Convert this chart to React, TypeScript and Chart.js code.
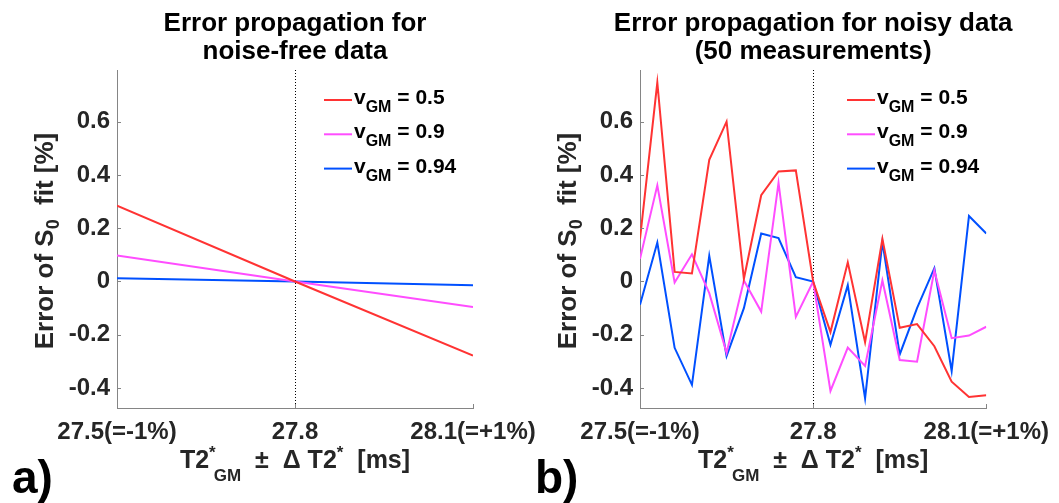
import React, { useEffect, useRef } from "react";
import { Chart, registerables } from "chart.js";

Chart.register(...registerables);

// ---------- data ----------
const xTickValues = [-1, 0, 1];
const xTickLabels = ["27.5(=-1%)", "27.8", "28.1(=+1%)"];
const yTickValues = [-0.4, -0.2, 0, 0.2, 0.4, 0.6];
const yTickLabels = ["-0.4", "-0.2", "0", "0.2", "0.4", "0.6"];

const seriesNames = ["0.5", "0.9", "0.94"];
const seriesColors = ["#ff3333", "#ff4dff", "#0050ff"];

const titleA = ["Error propagation for", "noise-free data"];
const titleB = ["Error propagation for noisy data", "(50 measurements)"];

// noise-free (relative deviation of T2*, -1 .. +1 %)
const noiseFreeX = [-1, 0, 1];
const noiseFreeV05 = [0.285, 0, -0.278];
const noiseFreeV09 = [0.098, 0, -0.096];
const noiseFreeV094 = [0.012, 0, -0.014];

// noisy data (50 measurements)
const noisyX = [-1, -0.9, -0.8, -0.7, -0.6, -0.5, -0.4, -0.3, -0.2, -0.1, 0, 0.1, 0.2, 0.3, 0.4, 0.5, 0.6, 0.7, 0.8, 0.9, 1];
const noisyV05 = [0.16, 0.747, 0.036, 0.03, 0.457, 0.6, 0.01, 0.324, 0.413, 0.417, 0, -0.19, 0.072, -0.228, 0.16, -0.174, -0.16, -0.243, -0.376, -0.434, -0.427];
const noisyV09 = [0.085, 0.361, -0.004, 0.102, -0.044, -0.268, 0.004, -0.113, 0.37, -0.133, 0, -0.411, -0.248, -0.317, 0.004, -0.295, -0.301, 0.041, -0.213, -0.203, -0.17];
const noisyV094 = [-0.087, 0.146, -0.249, -0.388, 0.096, -0.28, -0.1, 0.18, 0.163, 0.016, 0, -0.238, -0.014, -0.439, 0.149, -0.274, -0.1, 0.05, -0.336, 0.246, 0.18];

const Y_MIN = -0.475;
const Y_MAX = 0.794;

// ---------- drawing helpers ----------
const FONT = '"Liberation Sans", Arial, Helvetica, sans-serif';
const AXIS_GRAY = "#858585";
const TEXT_DARK = "#262626";

type Seg = { t: string; size: number; dy?: number; adv?: boolean };

function segWidth(ctx: CanvasRenderingContext2D, segs: Seg[]) {
  let w = 0;
  for (const s of segs) {
    ctx.font = `bold ${s.size}px ${FONT}`;
    if (s.adv !== false) w += ctx.measureText(s.t).width;
  }
  return w;
}

function drawSegs(ctx: CanvasRenderingContext2D, segs: Seg[], x: number, y: number) {
  let cx = x;
  for (const s of segs) {
    ctx.font = `bold ${s.size}px ${FONT}`;
    ctx.fillText(s.t, cx, y + (s.dy || 0));
    if (s.adv !== false) cx += ctx.measureText(s.t).width;
  }
}

const decorPlugin = {
  id: "panelDecor",
  beforeDatasetsDraw(chart: any) {
    const { ctx, chartArea, scales } = chart;
    const px = scales.x.getPixelForValue(0);
    ctx.save();
    ctx.strokeStyle = "#000";
    ctx.lineWidth = 1;
    ctx.setLineDash([1, 2]);
    ctx.beginPath();
    ctx.moveTo(Math.round(px) + 0.5, chartArea.top);
    ctx.lineTo(Math.round(px) + 0.5, chartArea.bottom);
    ctx.stroke();
    ctx.restore();
  },
  afterDraw(chart: any, _args: any, opts: any) {
    const { ctx, chartArea, scales } = chart;
    const { left, right, top, bottom } = chartArea;
    const cx = (left + right) / 2;
    ctx.save();
    ctx.textBaseline = "alphabetic";

    // inner tick marks
    ctx.strokeStyle = AXIS_GRAY;
    ctx.lineWidth = 1;
    ctx.beginPath();
    for (const v of yTickValues) {
      const py = Math.round(scales.y.getPixelForValue(v)) + 0.5;
      ctx.moveTo(left, py);
      ctx.lineTo(left + 4, py);
    }
    for (const v of xTickValues) {
      const px = Math.round(scales.x.getPixelForValue(v)) + 0.5;
      ctx.moveTo(px, bottom);
      ctx.lineTo(px, bottom - 4);
    }
    ctx.stroke();

    // title
    ctx.fillStyle = "#000";
    ctx.textAlign = "center";
    ctx.font = `bold 26px ${FONT}`;
    const lines: string[] = opts.titleLines || [];
    lines.forEach((l, i) => ctx.fillText(l, cx, 31 + i * 28));

    ctx.textAlign = "left";

    // legend
    chart.data.datasets.forEach((ds: any, i: number) => {
      const base = top + 34 + i * 34.3;
      const lx = left + 207;
      ctx.strokeStyle = ds.borderColor;
      ctx.lineWidth = 2;
      ctx.beginPath();
      ctx.moveTo(lx, base - 4);
      ctx.lineTo(lx + 28, base - 4);
      ctx.stroke();
      ctx.fillStyle = "#000";
      drawSegs(
        ctx,
        [
          { t: "v", size: 21 },
          { t: "GM", size: 16, dy: 8 },
          { t: " = " + ds.label, size: 21 },
        ],
        lx + 30,
        base
      );
    });

    // x axis label
    ctx.fillStyle = TEXT_DARK;
    const xl: Seg[] = [
      { t: "T2", size: 25 },
      { t: "*", size: 17, dy: -10, adv: false },
      { t: " GM", size: 17, dy: 13 },
      { t: "  ±  Δ T2", size: 25 },
      { t: "*", size: 17, dy: -10 },
      { t: "  [ms]", size: 25 },
    ];
    const xw = segWidth(ctx, xl);
    drawSegs(ctx, xl, cx - xw / 2, 468);

    // y axis label (rotated)
    const yl: Seg[] = [
      { t: "Error of S", size: 26 },
      { t: "0", size: 18, dy: 6 },
      { t: "  fit [%]", size: 26 },
    ];
    const yw = segWidth(ctx, yl);
    ctx.save();
    ctx.translate(left - 64, 241);
    ctx.rotate(-Math.PI / 2);
    drawSegs(ctx, yl, -yw / 2, 0);
    ctx.restore();

    // panel letter
    ctx.fillStyle = "#000";
    ctx.font = `bold 46px ${FONT}`;
    ctx.fillText(opts.letter, opts.letterX, 493);
    ctx.restore();
  },
};

function makeConfig(
  xs: number[],
  series: number[][],
  padLeft: number,
  padRight: number,
  titleLines: string[],
  letter: string,
  letterX: number
): any {
  return {
    type: "line",
    data: {
      datasets: series.map((ys, i) => ({
        label: seriesNames[i],
        data: xs.map((x, j) => ({ x, y: ys[j] })),
        borderColor: seriesColors[i],
        backgroundColor: seriesColors[i],
        borderWidth: 2,
        pointRadius: 0,
        tension: 0,
        fill: false,
      })),
    },
    options: {
      responsive: false,
      animation: false,
      devicePixelRatio: 1,
      layout: { padding: { left: padLeft, right: padRight, top: 70, bottom: 0 } },
      plugins: {
        legend: { display: false },
        tooltip: { enabled: false },
        title: { display: false },
        panelDecor: { titleLines, letter, letterX },
      },
      scales: {
        x: {
          type: "linear",
          min: -1,
          max: 1,
          afterBuildTicks: (s: any) => {
            s.ticks = xTickValues.map((v) => ({ value: v }));
          },
          afterFit: (s: any) => {
            s.height = 95;
          },
          ticks: {
            autoSkip: false,
            maxRotation: 0,
            minRotation: 0,
            padding: 10,
            color: TEXT_DARK,
            font: { family: FONT, size: 24, weight: "bold" },
            callback: (_v: any, i: number) => xTickLabels[i],
          },
          grid: { display: false, drawTicks: false },
          border: { display: true, color: AXIS_GRAY, width: 1 },
        },
        y: {
          type: "linear",
          min: Y_MIN,
          max: Y_MAX,
          afterBuildTicks: (s: any) => {
            s.ticks = yTickValues.map((v) => ({ value: v }));
          },
          afterFit: (s: any) => {
            s.width = 117;
          },
          ticks: {
            autoSkip: false,
            padding: 7,
            color: TEXT_DARK,
            font: { family: FONT, size: 24, weight: "bold" },
            callback: (_v: any, i: number) => yTickLabels[i],
          },
          grid: { display: false, drawTicks: false },
          border: { display: true, color: AXIS_GRAY, width: 1 },
        },
      },
    },
    plugins: [decorPlugin],
  };
}

export default function App() {
  const refA = useRef<HTMLCanvasElement>(null);
  const refB = useRef<HTMLCanvasElement>(null);

  useEffect(() => {
    const a = new Chart(
      refA.current as HTMLCanvasElement,
      makeConfig(noiseFreeX, [noiseFreeV05, noiseFreeV09, noiseFreeV094], 0, 1059 - 473, titleA, "a)", 12)
    );
    const b = new Chart(
      refB.current as HTMLCanvasElement,
      makeConfig(noisyX, [noisyV05, noisyV09, noisyV094], 640 - 117, 1059 - 995, titleB, "b)", 535)
    );
    return () => {
      a.destroy();
      b.destroy();
    };
  }, []);

  const cs: React.CSSProperties = { position: "absolute", left: 0, top: 0, width: 1059, height: 503 };
  return (
    <div style={{ position: "fixed", left: 0, top: 0, width: 1059, height: 503, background: "#fff" }}>
      <canvas ref={refA} width={1059} height={503} style={cs} />
      <canvas ref={refB} width={1059} height={503} style={cs} />
    </div>
  );
}
